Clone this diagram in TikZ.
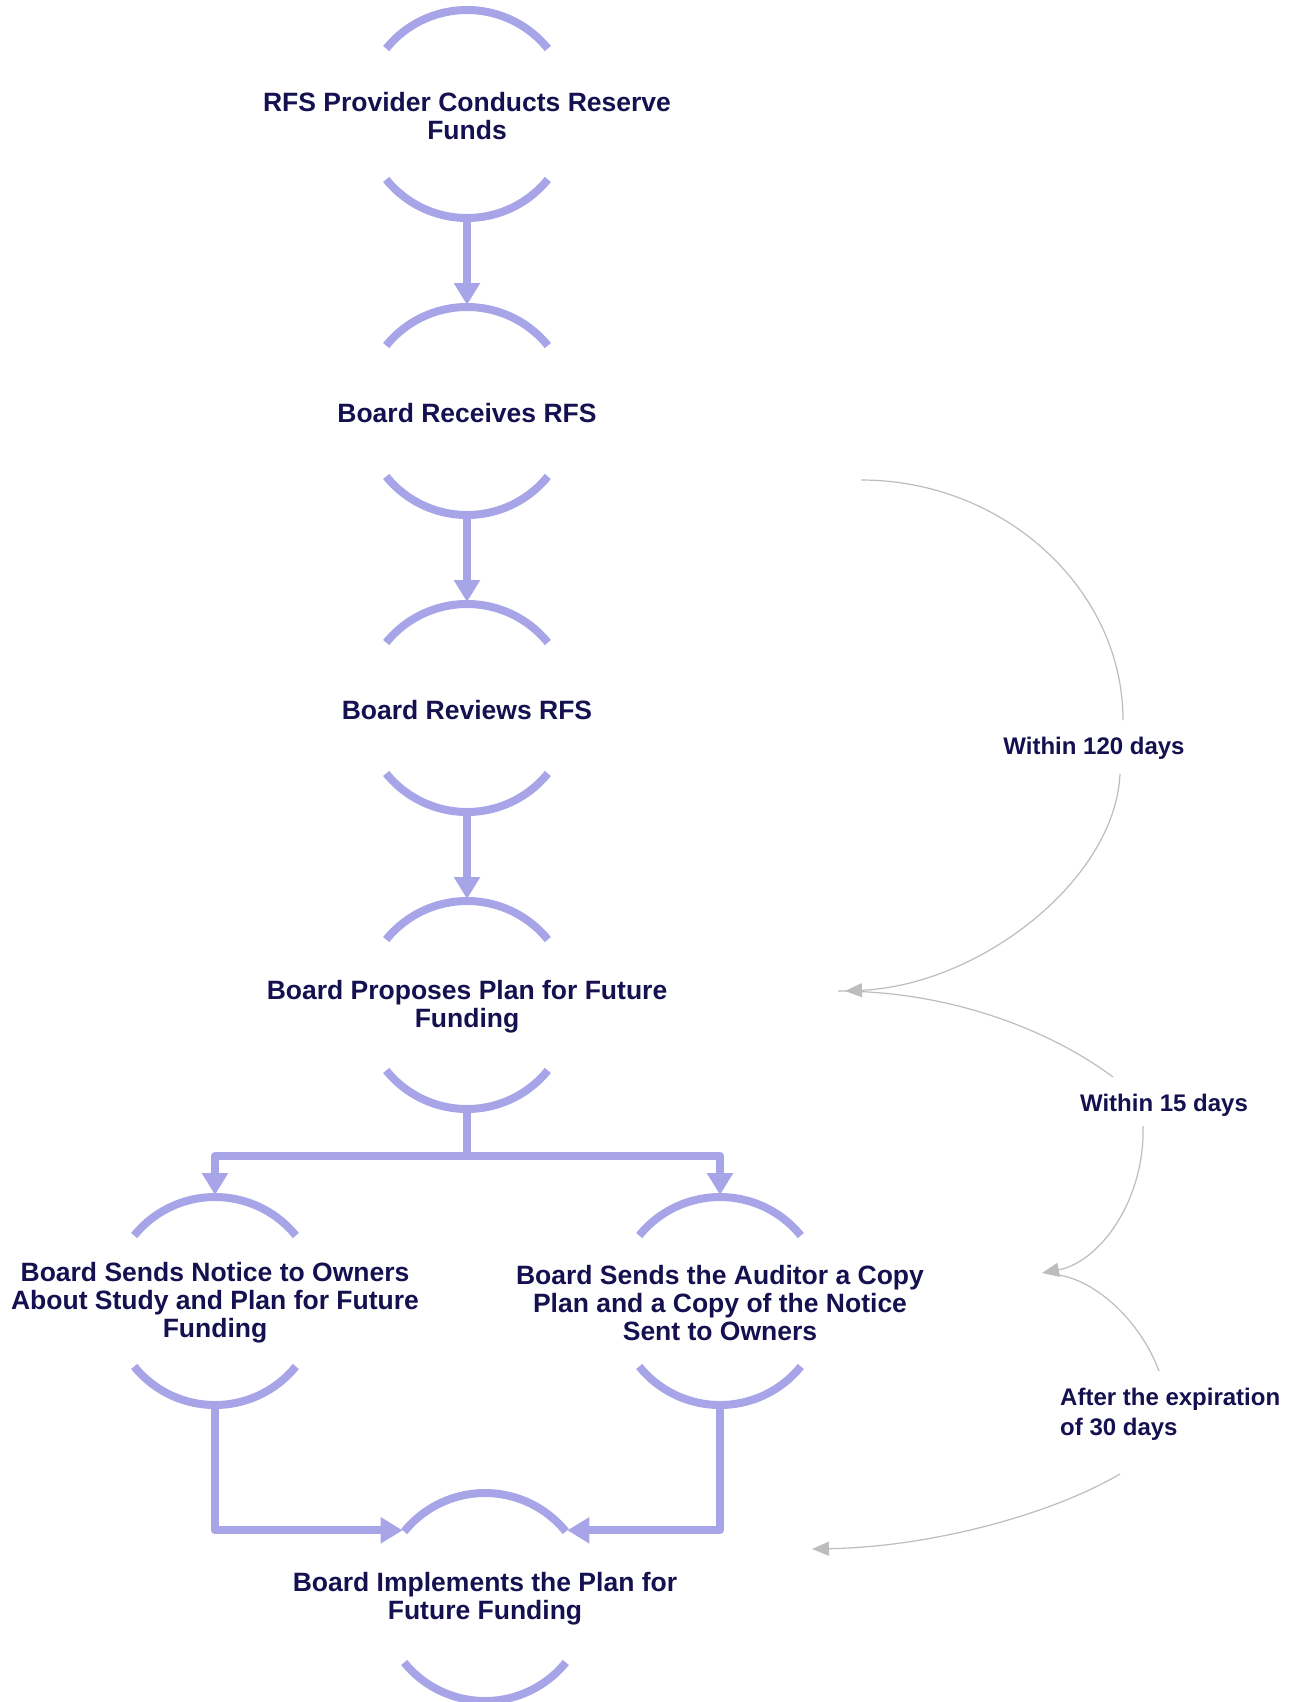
\documentclass[tikz,border=0pt]{standalone}
\usepackage{fontspec}
\setmainfont{Liberation Sans}
\usetikzlibrary{arrows.meta}
\definecolor{flowc}{HTML}{A7A5E8}
\definecolor{txtc}{HTML}{15104F}
\definecolor{grayc}{HTML}{BDBDBD}
\tikzset{
  ring/.style={circle, minimum size=212pt, inner sep=0pt, outer sep=0pt},
  ringarc/.style={draw=flowc, line width=8pt},
  ntext/.style={align=center, text=txtc, font=\bfseries\fontsize{26.5}{28}\selectfont, inner sep=0pt, yshift=-2pt},
  flow/.style={draw=flowc, line width=8pt, line join=round, -{Triangle[length=22pt,width=25pt]}},
  lag/.style={draw=grayc, line width=1.2pt},
  lagarrow/.style={lag, -{Triangle[length=17pt,width=14pt]}},
  lbl/.style={text=txtc, font=\bfseries\fontsize{24}{30}\selectfont, inner sep=0pt},
}
\newcommand\ringat[2]{%
  \node[ring] (#1) at (#2) {};
  \draw[ringarc] (#1.center) ++(39:104pt) arc[start angle=39,end angle=141,radius=104pt];
  \draw[ringarc] (#1.center) ++(219:104pt) arc[start angle=219,end angle=321,radius=104pt];
}
\begin{document}
\begin{tikzpicture}[x=1pt,y=1pt]
\useasboundingbox (0,0) rectangle (1300,-1702);
\fill[white] (0,0) rectangle (1300,-1702);

\ringat{n1}{467,-114}
\ringat{n2}{467,-411}
\ringat{n3}{467,-708}
\ringat{n4}{467,-1005}
\ringat{n5}{215,-1301}
\ringat{n6}{720,-1301}
\ringat{n7}{485,-1597}

\node[ntext] (t1) at (n1) {RFS Provider Conducts Reserve\\Funds};
\node[ntext] (t2) at (n2) {Board Receives RFS};
\node[ntext] (t3) at (n3) {Board Reviews RFS};
\node[ntext] (t4) at (n4) {Board Proposes Plan for Future\\Funding};
\node[ntext] (t5) at (n5) {Board Sends Notice to Owners\\About Study and Plan for Future\\Funding};
\node[ntext] (t6) at (n6) {Board Sends the Auditor a Copy\\Plan and a Copy of the Notice\\Sent to Owners};
\node[ntext] (t7) at (n7) {Board Implements the Plan for\\Future Funding};

\draw[flow] (n1.south) -- (n2.north);
\draw[flow] (n2.south) -- (n3.north);
\draw[flow] (n3.south) -- (n4.north);
\draw[flow] (n4.south) -- ++(0,-45) -| (n5.north);
\draw[flow] (n4.south) -- ++(0,-45) -| (n6.north);
\draw[flow] (n5.south) |- (n7.141);
\draw[flow] (n6.south) |- (n7.39);

% lag labels
\node[lbl] (l1) at (1094,-748) {Within 120 days};
\node[lbl] (l2) at (1164,-1105) {Within 15 days};
\node[lbl, align=left, anchor=west] (l3) at (1060,-1414) {After the expiration\\of 30 days};

% lag curve coordinates
\coordinate (a0) at (861,-480);
\coordinate (a1) at (1123,-720);
\coordinate (a2) at (1120,-774);
\coordinate (a3) at (845,-991);
\coordinate (b0) at (838,-991);
\coordinate (b1) at (1113,-1077);
\coordinate (b2) at (1143,-1126);
\coordinate (b3) at (1042,-1273);
\coordinate (c0) at (1058,-1275);
\coordinate (c1) at (1159,-1371);
\coordinate (c2) at (1120,-1474);
\coordinate (c3) at (812,-1549);

\draw[lag] (a0) .. controls (1005,-480) and (1123,-590) .. (a1);
\draw[lagarrow] (a2) .. controls (1115,-880) and (980,-985) .. (a3);
\draw[lag] (b0) .. controls (950,-991) and (1050,-1030) .. (b1);
\draw[lagarrow] (b2) .. controls (1145,-1200) and (1100,-1262) .. (b3);
\draw[lag] (c0) .. controls (1095,-1280) and (1140,-1320) .. (c1);
\draw[lagarrow] (c2) .. controls (1050,-1515) and (930,-1547) .. (c3);
\end{tikzpicture}
\end{document}
